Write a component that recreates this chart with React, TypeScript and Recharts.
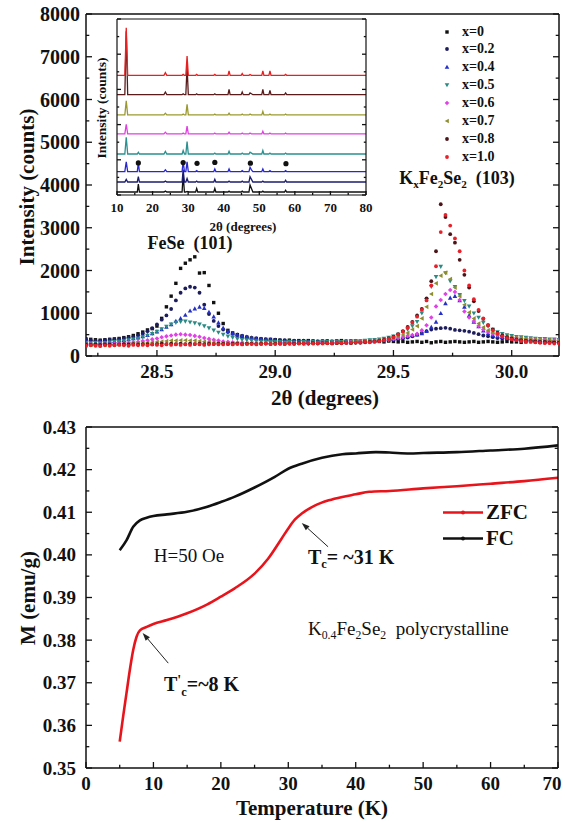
import React from 'react';
import {
  ScatterChart,
  Scatter,
  LineChart,
  Line,
  ComposedChart,
  XAxis,
  YAxis,
  ReferenceLine,
} from 'recharts';

const FONT = '"Liberation Serif", "Times New Roman", serif';
const INK = '#111';

// ---- top panel: (101) FeSe and (103) KxFe2Se2 reflections ----
const THETA = [
  28.2, 28.22, 28.24, 28.26, 28.28, 28.3, 28.32, 28.34, 28.36, 28.38,
  28.4, 28.42, 28.44, 28.46, 28.48, 28.5, 28.52, 28.54, 28.56, 28.58,
  28.6, 28.62, 28.64, 28.66, 28.68, 28.7, 28.72, 28.74, 28.76, 28.78,
  28.8, 28.82, 28.84, 28.86, 28.88, 28.9, 28.92, 28.94, 28.96, 28.98,
  29.0, 29.02, 29.04, 29.06, 29.08, 29.1, 29.12, 29.14, 29.16, 29.18,
  29.2, 29.22, 29.24, 29.26, 29.28, 29.3, 29.32, 29.34, 29.36, 29.38,
  29.4, 29.42, 29.44, 29.46, 29.48, 29.5, 29.52, 29.54, 29.56, 29.58,
  29.6, 29.62, 29.64, 29.66, 29.68, 29.7, 29.72, 29.74, 29.76, 29.78,
  29.8, 29.82, 29.84, 29.86, 29.88, 29.9, 29.92, 29.94, 29.96, 29.98,
  30.0, 30.02, 30.04, 30.06, 30.08, 30.1, 30.12, 30.14, 30.16, 30.18,
  30.2,
];

const I_X00 = [
  400, 390, 380, 370, 380, 390, 400, 410, 430, 450,
  480, 520, 560, 610, 640, 700, 880, 1150, 1400, 1700,
  2050, 2170, 2250, 2320, 1940, 1950, 1650, 1250, 1000, 760,
  600, 540, 500, 470, 440, 420, 410, 400, 390, 390,
  380, 370, 360, 370, 350, 360, 350, 360, 350, 340,
  350, 350, 340, 350, 360, 340, 350, 350, 340, 350,
  340, 350, 340, 330, 350, 340, 330, 340, 320, 330,
  340, 320, 340, 310, 330, 340, 320, 330, 340, 330,
  320, 330, 340, 320, 330, 340, 330, 320, 330, 340,
  330, 330, 320, 330, 340, 330, 320, 330, 340, 330,
  320,
];
const I_X02 = [
  380, 370, 360, 360, 370, 380, 390, 400, 420, 430,
  450, 480, 520, 580, 650, 740, 850, 950, 1100, 1300,
  1480, 1580, 1620, 1600, 1480, 1200, 980, 820, 700, 620,
  560, 520, 490, 460, 440, 420, 410, 400, 390, 380,
  380, 370, 370, 360, 360, 350, 360, 350, 350, 340,
  340, 350, 340, 350, 340, 350, 340, 350, 340, 350,
  350, 350, 360, 360, 370, 380, 390, 410, 430, 460,
  500, 540, 580, 620, 640, 650, 660, 640, 610, 600,
  590, 570, 540, 510, 480, 460, 440, 420, 410, 400,
  390, 380, 380, 370, 370, 360, 360, 350, 350, 350,
  340,
];
const I_X04 = [
  330, 320, 320, 330, 330, 340, 350, 360, 370, 390,
  410, 430, 460, 490, 530, 570, 620, 680, 740, 820,
  880, 960, 1060, 1110, 1150, 1120, 1030, 920, 780, 660,
  580, 530, 500, 470, 450, 430, 410, 400, 390, 380,
  370, 360, 350, 350, 340, 340, 330, 340, 330, 330,
  330, 330, 330, 340, 330, 340, 340, 350, 340, 350,
  360, 360, 370, 380, 390, 400, 420, 440, 460, 480,
  500, 530, 580, 680, 800, 1000, 1230, 1360, 1400, 1300,
  1150, 950, 800, 690, 590, 530, 490, 460, 440, 420,
  410, 400, 390, 380, 380, 370, 370, 360, 360, 350,
  350,
];
const I_X05 = [
  300, 300, 310, 300, 310, 320, 330, 340, 350, 370,
  390, 410, 440, 480, 520, 570, 630, 690, 740, 780,
  800, 810, 790, 770, 740, 700, 650, 600, 550, 500,
  460, 430, 400, 380, 370, 360, 350, 340, 340, 330,
  330, 330, 320, 330, 320, 320, 330, 320, 330, 320,
  330, 330, 330, 340, 330, 340, 340, 350, 350, 360,
  370, 380, 390, 410, 430, 460, 500, 560, 620, 700,
  800, 1000, 1310, 1620, 1850, 2090, 1940, 1750, 1620, 1430,
  1290, 1160, 1000, 900, 780, 690, 620, 560, 520, 490,
  470, 450, 440, 430, 420, 410, 400, 400, 390, 390,
  380,
];
const I_X06 = [
  260, 270, 260, 270, 270, 280, 280, 290, 300, 310,
  320, 330, 350, 370, 390, 410, 440, 460, 480, 500,
  510, 500, 490, 470, 450, 420, 400, 380, 360, 340,
  330, 320, 310, 310, 300, 300, 300, 290, 300, 290,
  300, 290, 300, 300, 290, 300, 300, 290, 300, 300,
  310, 300, 310, 310, 300, 310, 320, 320, 330, 330,
  340, 350, 360, 370, 380, 400, 420, 440, 470, 490,
  520, 600, 720, 900, 1160, 1310, 1450, 1545, 1500, 1310,
  1040, 900, 815, 700, 620, 560, 520, 490, 460, 440,
  430, 420, 410, 400, 400, 390, 380, 380, 370, 370,
  360,
];
const I_X07 = [
  250, 260, 250, 260, 260, 270, 270, 270, 280, 280,
  290, 300, 300, 310, 320, 330, 340, 350, 360, 360,
  370, 370, 360, 360, 350, 340, 330, 320, 310, 300,
  300, 290, 300, 290, 290, 300, 290, 290, 300, 290,
  300, 290, 300, 290, 300, 300, 290, 300, 300, 310,
  300, 310, 300, 310, 320, 310, 320, 330, 330, 340,
  350, 360, 370, 380, 400, 420, 450, 490, 540, 620,
  700, 880, 1150, 1450, 1700, 1880, 1950, 1800, 1600, 1400,
  1200, 1020, 880, 760, 670, 600, 550, 510, 480, 460,
  440, 430, 420, 410, 400, 390, 390, 380, 380, 370,
  370,
];
const I_X08 = [
  270, 260, 270, 260, 270, 270, 260, 270, 280, 270,
  280, 270, 280, 280, 270, 280, 290, 280, 290, 280,
  290, 280, 290, 280, 290, 280, 290, 280, 290, 290,
  280, 290, 290, 280, 290, 290, 280, 290, 290, 280,
  290, 290, 280, 290, 290, 300, 290, 290, 300, 290,
  300, 300, 290, 300, 300, 310, 300, 310, 310, 320,
  330, 340, 360, 380, 410, 450, 510, 580, 680, 800,
  950, 1100, 1350, 1750, 2450, 3550, 3250, 2850, 2650, 2250,
  1900, 1600, 1280, 1050, 870, 720, 620, 540, 480, 440,
  410, 390, 370, 360, 350, 340, 330, 330, 320, 320,
  310,
];
const I_X10 = [
  240, 250, 240, 230, 250, 240, 250, 260, 250, 240,
  260, 250, 260, 250, 270, 260, 250, 270, 260, 270,
  260, 270, 260, 280, 270, 260, 270, 280, 270, 270,
  280, 270, 280, 270, 280, 280, 270, 280, 290, 280,
  280, 290, 280, 290, 280, 290, 290, 300, 290, 300,
  290, 300, 300, 310, 300, 310, 310, 320, 320, 330,
  320, 330, 350, 370, 400, 440, 500, 570, 660, 780,
  920, 1080, 1300, 1650, 2100, 2900, 3300, 3050, 2750, 2450,
  2000, 1650, 1330, 1080, 880, 720, 600, 520, 460, 420,
  390, 370, 350, 340, 330, 320, 310, 300, 300, 290,
  290,
];

const LABELS = ['x=0', 'x=0.2', 'x=0.4', 'x=0.5', 'x=0.6', 'x=0.7', 'x=0.8', 'x=1.0'];

const XRD_SERIES = [
  { label: LABELS[0], values: I_X00, color: '#111111', kind: 'square' },
  { label: LABELS[1], values: I_X02, color: '#1d1d5c', kind: 'circle' },
  { label: LABELS[2], values: I_X04, color: '#2430c8', kind: 'up' },
  { label: LABELS[3], values: I_X05, color: '#2a8a84', kind: 'down' },
  { label: LABELS[4], values: I_X06, color: '#e040e6', kind: 'diamond' },
  { label: LABELS[5], values: I_X07, color: '#8e8e2c', kind: 'left' },
  { label: LABELS[6], values: I_X08, color: '#4a1418', kind: 'circle' },
  { label: LABELS[7], values: I_X10, color: '#e8202a', kind: 'circle' },
];

const THETA_TICKS = [28.25, 28.5, 28.75, 29.0, 29.25, 29.5, 29.75, 30.0];
const THETA_MAJOR = [28.5, 29.0, 29.5, 30.0];
const COUNT_TICKS = [0, 500, 1000, 1500, 2000, 2500, 3000, 3500, 4000, 4500, 5000, 5500, 6000, 6500, 7000, 7500, 8000];
const COUNT_MAJOR = [0, 1000, 2000, 3000, 4000, 5000, 6000, 7000, 8000];

// ---- inset: full patterns, stacked ----
const INSET_2THETA = [
  10, 12.2, 12.6, 13.0, 15.7, 16.0, 16.3, 23.2, 23.6, 24.0, 28.3, 28.6, 28.95, 29.35, 29.7, 30.05,
  32.1, 32.4, 32.7, 37.2, 37.5, 37.8, 41.2, 41.5, 41.8, 44.9, 45.2, 45.5, 47.1, 47.4, 47.8, 48.2,
  50.7, 51.0, 51.3, 52.7, 53.0, 53.3, 57.1, 57.4, 57.7, 80,
];
const INSET_OFFSETS = [1.7, 7.4, 13.3, 23.3, 34.7, 45.5, 57, 68];
const P_X00 = [0, 0, 0, 0, 0, 4.5, 0, 0, 0.5, 0, 0, 10, 0, 0, 0.3, 0, 0, 2, 0, 0, 2, 0, 0, 0.5, 0, 0, 0.5, 0, 0, 4, 2, 0, 0, 0.5, 0, 0, 0, 0, 0, 1, 0, 0];
const P_X02 = [0, 0, 1.5, 0, 0, 3, 0, 0, 0.5, 0, 0, 7, 0, 0, 2, 0, 0, 0.5, 0, 0, 1.5, 0, 0, 0.5, 0, 0, 0.5, 0, 0, 3, 1.5, 0, 0, 0.5, 0, 0, 0, 0, 0, 1, 0, 0];
const P_X04 = [0, 0, 5.5, 0, 0, 5, 0, 0, 1, 0, 0, 6, 0, 0, 5.5, 0, 0, 0.5, 0, 0, 1.5, 0, 0, 1.5, 0, 0, 0.5, 0, 0, 2.5, 1, 0, 0, 1.5, 0, 0, 0.5, 0, 0, 0.5, 0, 0];
const P_X05 = [0, 0, 9.5, 0, 0, 1, 0, 0, 1.5, 0, 0, 2, 0, 0, 7, 0, 0, 0, 0, 0, 0.5, 0, 0, 1.5, 0, 0, 0.5, 0, 0, 1, 0.5, 0, 0, 2, 0, 0, 0.5, 0, 0, 0.5, 0, 0];
const P_X06 = [0, 0, 5.5, 0, 0, 0, 0, 0, 1, 0, 0, 0.5, 0, 0, 4.5, 0, 0, 0, 0, 0, 0.5, 0, 0, 1, 0, 0, 0.5, 0, 0, 0.5, 0, 0, 0, 1.5, 0, 0, 0.5, 0, 0, 0.5, 0, 0];
const P_X07 = [0, 0, 8, 0, 0, 0, 0, 0, 1, 0, 0, 0.5, 0, 0, 6, 0, 0, 0, 0, 0, 0.5, 0, 0, 1, 0, 0, 0.5, 0, 0, 0.5, 0, 0, 0, 2, 0, 0, 0.5, 0, 0, 0.5, 0, 0];
const P_X08 = [0, 0, 36, 0, 0, 0, 0, 0, 1.5, 0, 0, 0.5, 0, 0, 16, 0, 0, 0.5, 0, 0, 0.5, 0, 0, 3, 0, 0, 1.5, 0, 0, 1, 0.5, 0, 0, 3, 0, 0, 2.5, 0, 0, 1, 0, 0];
const P_X10 = [0, 0, 27, 0, 0, 0, 0, 0, 1.5, 0, 0, 0.5, 0, 0, 11, 0, 0, 0.5, 0, 0, 0.5, 0, 0, 2.5, 0, 0, 1, 0, 0, 0.5, 0, 0, 0, 2.5, 0, 0, 2.5, 0, 0, 0.5, 0, 0];
const INSET_COLORS = ['#111111', '#1c1c70', '#2828d0', '#2a9090', '#e040e0', '#9a9a30', '#5a1a1a', '#e82020'];
const INSET_PATTERNS = [P_X00, P_X02, P_X04, P_X05, P_X06, P_X07, P_X08, P_X10];
// FeSe impurity reflections marked with dots
const IMPURITY_2THETA = [16, 28.6, 32.5, 37.5, 47.5, 57.5];
const IMPURITY_MARK_Y = [18.2, 18.4, 18.0, 18.5, 18.1, 17.8];

const INSET_X_TICKS = [10, 15, 20, 25, 30, 35, 40, 45, 50, 55, 60, 65, 70, 75, 80];
const INSET_X_MAJOR = [10, 20, 30, 40, 50, 60, 70, 80];
const INSET_Y_TICKS = [0, 10, 20, 30, 40, 50, 60, 70, 80, 90, 100];
const INSET_Y_MAJOR = [0, 20, 40, 60, 80, 100];

// ---- bottom panel: M(T) ----
const FC_T = [5, 6, 7, 8, 9, 10, 12, 15, 18, 20, 22, 25, 28, 30, 32, 35, 38, 40, 43, 45, 48, 50, 55, 60, 65, 70];
const FC_M = [
  0.4011, 0.4034, 0.4066, 0.4081, 0.4087, 0.4091, 0.4095, 0.4101, 0.4113, 0.4124, 0.4136, 0.4158, 0.4183,
  0.4202, 0.4214, 0.4228, 0.4236, 0.4238, 0.4241, 0.424, 0.4238, 0.4239, 0.4241, 0.4245, 0.4249, 0.4257,
];
const ZFC_T = [5, 5.5, 6, 6.5, 7, 7.5, 8, 9, 10, 12, 15, 18, 20, 22, 25, 27, 29, 30, 31, 32, 34, 36, 38, 40, 42, 45, 50, 55, 60, 65, 70];
const ZFC_M = [
  0.3562, 0.362, 0.3675, 0.373, 0.3777, 0.3808, 0.3823, 0.3831, 0.3838, 0.3847, 0.3863, 0.3884, 0.3902, 0.3921,
  0.3956, 0.3991, 0.4038, 0.4062, 0.4083, 0.4097, 0.4116, 0.4128, 0.4136, 0.4142, 0.4148, 0.415, 0.4156, 0.4161,
  0.4167, 0.4173, 0.4181,
];
const T_TICKS = [0, 5, 10, 15, 20, 25, 30, 35, 40, 45, 50, 55, 60, 65, 70];
const T_MAJOR = [0, 10, 20, 30, 40, 50, 60, 70];
const M_TICKS = [0.35, 0.355, 0.36, 0.365, 0.37, 0.375, 0.38, 0.385, 0.39, 0.395, 0.4, 0.405, 0.41, 0.415, 0.42, 0.425, 0.43];
const M_MAJOR = [0.35, 0.36, 0.37, 0.38, 0.39, 0.4, 0.41, 0.42, 0.43];
// arrows: [tail, head] in (T, M)
const TC_ARROW = [{ x: 35.9, y: 0.4019 }, { x: 32.0, y: 0.4075 }];
const TC2_ARROW = [{ x: 12.2, y: 0.3746 }, { x: 8.4, y: 0.3817 }];

type Side = 'bottom' | 'left' | 'top' | 'right';

const labelStyle = (size: number) => ({ fontFamily: FONT, fontWeight: 700, fontSize: size });

const tickFactory =
  (side: Side, majors: number[], fmt: ((v: number) => string) | null, size: number, len: number, gap: number) =>
  (props: any) => {
    const { x, y, payload } = props;
    const v = payload.value as number;
    const major = majors.some((m) => Math.abs(m - v) < 1e-7);
    const l = major ? len : len * 0.55;
    let x2 = x;
    let y2 = y;
    if (side === 'bottom') y2 = y - l;
    if (side === 'top') y2 = y + l;
    if (side === 'left') x2 = x + l;
    if (side === 'right') x2 = x - l;
    let label = null;
    if (major && fmt && side === 'bottom') {
      // keep the last label inside the page
      const lx = Math.min(x, 552);
      label = (
        <text x={lx} y={y + gap} textAnchor="middle" dominantBaseline="hanging" style={labelStyle(size)} fill={INK}>
          {fmt(v)}
        </text>
      );
    }
    if (major && fmt && side === 'left') {
      label = (
        <text x={x - gap} y={y} textAnchor="end" dominantBaseline="central" style={labelStyle(size)} fill={INK}>
          {fmt(v)}
        </text>
      );
    }
    return (
      <g>
        <line x1={x} y1={y} x2={x2} y2={y2} stroke={INK} strokeWidth={1.3} />
        {label}
      </g>
    );
  };

// axis props shared by every frame side (1px axis box so Recharts draws it)
const frame = (lineW: number) => ({
  interval: 0 as const,
  allowDataOverflow: true,
  tickLine: false,
  tickSize: 0,
  tickMargin: 0,
  axisLine: { stroke: INK, strokeWidth: lineW },
});

const Mark = ({ cx, cy, kind, color }: { cx: number; cy: number; kind: string; color: string }) => {
  const s = 2.3;
  switch (kind) {
    case 'square':
      return <rect x={cx - 1.7} y={cy - 1.7} width={3.4} height={3.4} fill={color} />;
    case 'up':
      return <polygon points={`${cx},${cy - s} ${cx - s},${cy + s * 0.8} ${cx + s},${cy + s * 0.8}`} fill={color} />;
    case 'down':
      return <polygon points={`${cx},${cy + s} ${cx - s},${cy - s * 0.8} ${cx + s},${cy - s * 0.8}`} fill={color} />;
    case 'diamond':
      return <polygon points={`${cx},${cy - s} ${cx + s},${cy} ${cx},${cy + s} ${cx - s},${cy}`} fill={color} />;
    case 'left':
      return <polygon points={`${cx - s},${cy} ${cx + s * 0.8},${cy - s} ${cx + s * 0.8},${cy + s}`} fill={color} />;
    default:
      return <circle cx={cx} cy={cy} r={1.9} fill={color} />;
  }
};

const Arrow = (p: any) => {
  const { x1, y1, x2, y2 } = p;
  const dx = x2 - x1;
  const dy = y2 - y1;
  const len = Math.hypot(dx, dy) || 1;
  const ux = dx / len;
  const uy = dy / len;
  const bx = x2 - ux * 8;
  const by = y2 - uy * 8;
  const pts = `${x2},${y2} ${bx - uy * 2.8},${by + ux * 2.8} ${bx + uy * 2.8},${by - ux * 2.8}`;
  return (
    <g>
      <line x1={x1} y1={y1} x2={bx} y2={by} stroke="#222" strokeWidth={1} />
      <polygon points={pts} fill="#222" />
    </g>
  );
};

const XrdChart = () => (
  <ScatterChart width={565} height={410} margin={{ top: 13, right: 5, bottom: 53, left: 85 }}>
    <XAxis type="number" dataKey="x" domain={[28.2, 30.2]} ticks={THETA_TICKS} height={1} {...frame(1.5)}
      tick={tickFactory('bottom', THETA_MAJOR, (v) => v.toFixed(1), 19, 6, 8)} />
    <XAxis xAxisId="top" orientation="top" type="number" domain={[28.2, 30.2]} ticks={THETA_TICKS} height={1} {...frame(1.5)}
      tick={tickFactory('top', THETA_MAJOR, null, 19, 6, 0)} />
    <YAxis type="number" dataKey="y" domain={[0, 8000]} ticks={COUNT_TICKS} width={1} {...frame(1.5)}
      tick={tickFactory('left', COUNT_MAJOR, (v) => String(v), 20, 6, 6)} />
    <YAxis yAxisId="right" orientation="right" type="number" domain={[0, 8000]} ticks={COUNT_TICKS} width={1} {...frame(1.5)}
      tick={tickFactory('right', COUNT_MAJOR, null, 19, 6, 0)} />
    {XRD_SERIES.map((s) => (
      <Scatter
        key={s.label}
        name={s.label}
        data={THETA.map((t, i) => ({ x: t, y: s.values[i] }))}
        isAnimationActive={false}
        shape={(p: any) => <Mark cx={p.cx} cy={p.cy} kind={s.kind} color={s.color} />}
      />
    ))}
  </ScatterChart>
);

const InsetChart = () => (
  <ComposedChart width={380} height={240} margin={{ top: 18, right: 13, bottom: 44, left: 116 }}>
    <XAxis type="number" dataKey="t" domain={[10, 80]} ticks={INSET_X_TICKS} height={1} {...frame(1.2)}
      tick={tickFactory('bottom', INSET_X_MAJOR, (v) => String(v), 13, 4, 7)} />
    <XAxis xAxisId="top" orientation="top" type="number" domain={[10, 80]} ticks={INSET_X_TICKS} height={1} {...frame(1.2)}
      tick={tickFactory('top', INSET_X_MAJOR, null, 13, 4, 0)} />
    <YAxis type="number" domain={[0, 100]} ticks={INSET_Y_TICKS} width={1} {...frame(1.2)}
      tick={tickFactory('left', INSET_Y_MAJOR, null, 13, 4, 0)} />
    <YAxis yAxisId="right" orientation="right" type="number" domain={[0, 100]} ticks={INSET_Y_TICKS} width={1} {...frame(1.2)}
      tick={tickFactory('right', INSET_Y_MAJOR, null, 13, 4, 0)} />
    {INSET_PATTERNS.map((pat, k) => (
      <Line
        key={LABELS[k]}
        data={INSET_2THETA.map((t, i) => ({ t, v: INSET_OFFSETS[k] + pat[i] }))}
        dataKey="v"
        type="linear"
        stroke={INSET_COLORS[k]}
        strokeWidth={1.3}
        dot={false}
        isAnimationActive={false}
      />
    ))}
    <Scatter
      data={IMPURITY_2THETA.map((t, i) => ({ t, v: IMPURITY_MARK_Y[i] }))}
      dataKey="v"
      isAnimationActive={false}
      shape={(p: any) => <circle cx={p.cx} cy={p.cy} r={2.6} fill={INK} />}
    />
  </ComposedChart>
);

const MagChart = () => (
  <LineChart width={565} height={422} margin={{ top: 26, right: 6, bottom: 53, left: 85 }}>
    <XAxis type="number" dataKey="t" domain={[0, 70]} ticks={T_TICKS} height={1} {...frame(1.5)}
      tick={tickFactory('bottom', T_MAJOR, (v) => String(v), 19, 6, 8)} />
    <XAxis xAxisId="top" orientation="top" type="number" domain={[0, 70]} ticks={T_TICKS} height={1} {...frame(1.5)}
      tick={tickFactory('top', T_MAJOR, null, 19, 6, 0)} />
    <YAxis type="number" domain={[0.35, 0.43]} ticks={M_TICKS} width={1} {...frame(1.5)}
      tick={tickFactory('left', M_MAJOR, (v) => v.toFixed(2), 19, 6, 10)} />
    <YAxis yAxisId="right" orientation="right" type="number" domain={[0.35, 0.43]} ticks={M_TICKS} width={1} {...frame(1.5)}
      tick={tickFactory('right', M_MAJOR, null, 19, 6, 0)} />
    <Line data={FC_T.map((t, i) => ({ t, m: FC_M[i] }))} dataKey="m" type="monotone" stroke="#111" strokeWidth={2.6} dot={false} isAnimationActive={false} />
    <Line data={ZFC_T.map((t, i) => ({ t, m: ZFC_M[i] }))} dataKey="m" type="monotone" stroke="#e8141c" strokeWidth={2.6} dot={false} isAnimationActive={false} />
    <ReferenceLine segment={TC_ARROW} shape={Arrow} />
    <ReferenceLine segment={TC2_ARROW} shape={Arrow} />
  </LineChart>
);

const Txt = ({ x, y, size, bold = true, rotate = false, left = false, children }: any) => (
  <div
    style={{
      position: 'absolute',
      left: x,
      top: y,
      transform: `translate(${left ? '0' : '-50%'}, -50%)${rotate ? ' rotate(-90deg)' : ''}`,
      fontSize: size,
      fontWeight: bold ? 700 : 400,
      whiteSpace: 'nowrap',
      lineHeight: 1,
    }}
  >
    {children}
  </div>
);

const sub = { fontSize: '0.62em', verticalAlign: '-0.35em' };

export default function App() {
  return (
    <div style={{ position: 'absolute', left: 0, top: 0, width: 565, height: 822, background: '#fff', fontFamily: FONT, color: INK, overflow: 'hidden' }}>
      <div style={{ position: 'absolute', left: 0, top: 0 }}>
        <XrdChart />
      </div>
      <div style={{ position: 'absolute', left: 0, top: 0 }}>
        <InsetChart />
      </div>
      <div style={{ position: 'absolute', left: 0, top: 400 }}>
        <MagChart />
      </div>

      {/* top panel text */}
      <Txt x={27} y={187} size={21} rotate>Intensity (counts)</Txt>
      <Txt x={325} y={398} size={21}>2θ (degrees)</Txt>
      <Txt x={102} y={108} size={13.5} rotate>Intensity (counts)</Txt>
      <Txt x={243} y={226} size={13}>2θ (degrees)</Txt>
      <Txt x={190} y={243} size={18}>FeSe&nbsp; (101)</Txt>
      <Txt x={457} y={180} size={18}>
        K<span style={sub}>x</span>Fe<span style={sub}>2</span>Se<span style={sub}>2</span>&nbsp; (103)
      </Txt>
      {XRD_SERIES.map((s, i) => (
        <div key={s.label} style={{ position: 'absolute', left: 441, top: 31.5 + i * 17.9, transform: 'translateY(-50%)', display: 'flex', alignItems: 'center' }}>
          <svg width={12} height={10}>
            <Mark cx={6} cy={5} kind={s.kind} color={s.color} />
          </svg>
          <span style={{ marginLeft: 9, fontSize: 14, fontWeight: 700, lineHeight: 1 }}>{s.label}</span>
        </div>
      ))}

      {/* bottom panel text */}
      <Txt x={28} y={598} size={21} rotate>M (emu/g)</Txt>
      <Txt x={312} y={808} size={21}>Temperature (K)</Txt>
      <Txt x={189} y={555} size={19} bold={false}>H=50 Oe</Txt>
      <Txt x={308} y={559} size={20} left>
        T<span style={sub}>c</span>= ~31 K
      </Txt>
      <Txt x={164} y={686} size={20} left>
        T<span style={{ fontSize: '0.7em', verticalAlign: '0.45em' }}>'</span>
        <span style={sub}>c</span>=~8 K
      </Txt>
      <Txt x={308} y={630} size={19} bold={false} left>
        K<span style={sub}>0.4</span>Fe<span style={sub}>2</span>Se<span style={sub}>2</span>&nbsp; polycrystalline
      </Txt>
      <div style={{ position: 'absolute', left: 443, top: 512, transform: 'translateY(-50%)', display: 'flex', alignItems: 'center' }}>
        <svg width={42} height={8}>
          <line x1={0} y1={4} x2={40} y2={4} stroke="#e8141c" strokeWidth={2.5} />
          <circle cx={20} cy={4} r={2} fill="#e8141c" />
        </svg>
        <span style={{ marginLeft: 1, fontSize: 21, fontWeight: 700, lineHeight: 1 }}>ZFC</span>
      </div>
      <div style={{ position: 'absolute', left: 443, top: 538, transform: 'translateY(-50%)', display: 'flex', alignItems: 'center' }}>
        <svg width={42} height={8}>
          <line x1={0} y1={4} x2={40} y2={4} stroke="#111" strokeWidth={2.5} />
          <circle cx={20} cy={4} r={2} fill="#111" />
        </svg>
        <span style={{ marginLeft: 1, fontSize: 21, fontWeight: 700, lineHeight: 1 }}>FC</span>
      </div>
    </div>
  );
}
